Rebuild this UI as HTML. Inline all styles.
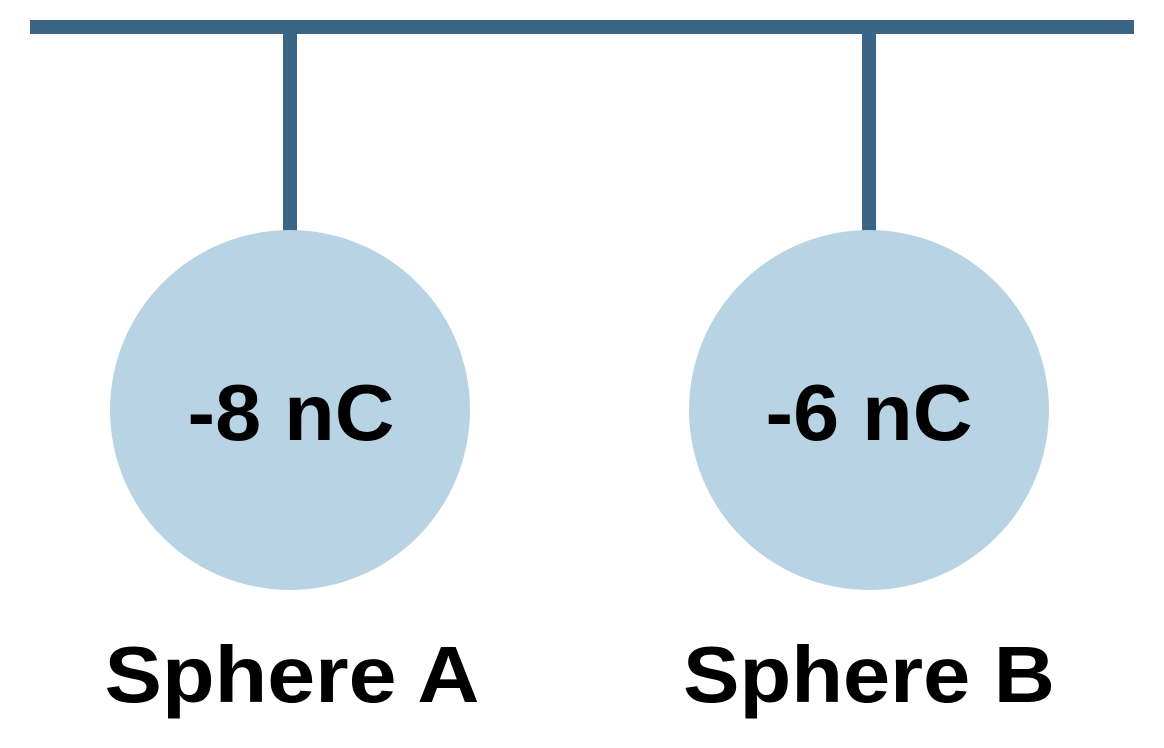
<!DOCTYPE html>
<html><head><meta charset="utf-8"><style>
html,body{margin:0;padding:0;background:#fff;}
svg{display:block}
text{font-family:"Liberation Sans",sans-serif;font-weight:bold;fill:#000;text-anchor:middle}
</style></head><body>
<svg width="1164" height="748" viewBox="0 0 1164 748">
<rect x="30" y="20" width="1104" height="14" fill="#3a6585"/>
<rect x="283" y="30" width="14" height="202" fill="#3a6585"/>
<rect x="862" y="30" width="14" height="202" fill="#3a6585"/>
<circle cx="290" cy="410" r="180" fill="#b8d4e4"/>
<circle cx="869" cy="410" r="180" fill="#b8d4e4"/>
<text x="291" y="440" font-size="80" textLength="207" lengthAdjust="spacingAndGlyphs">-8 nC</text>
<text x="869" y="440" font-size="80" textLength="207" lengthAdjust="spacingAndGlyphs">-6 nC</text>
<text x="292" y="702" font-size="80" textLength="375" lengthAdjust="spacingAndGlyphs">Sphere A</text>
<text x="869" y="702" font-size="80" textLength="372" lengthAdjust="spacingAndGlyphs">Sphere B</text>
</svg>
</body></html>
